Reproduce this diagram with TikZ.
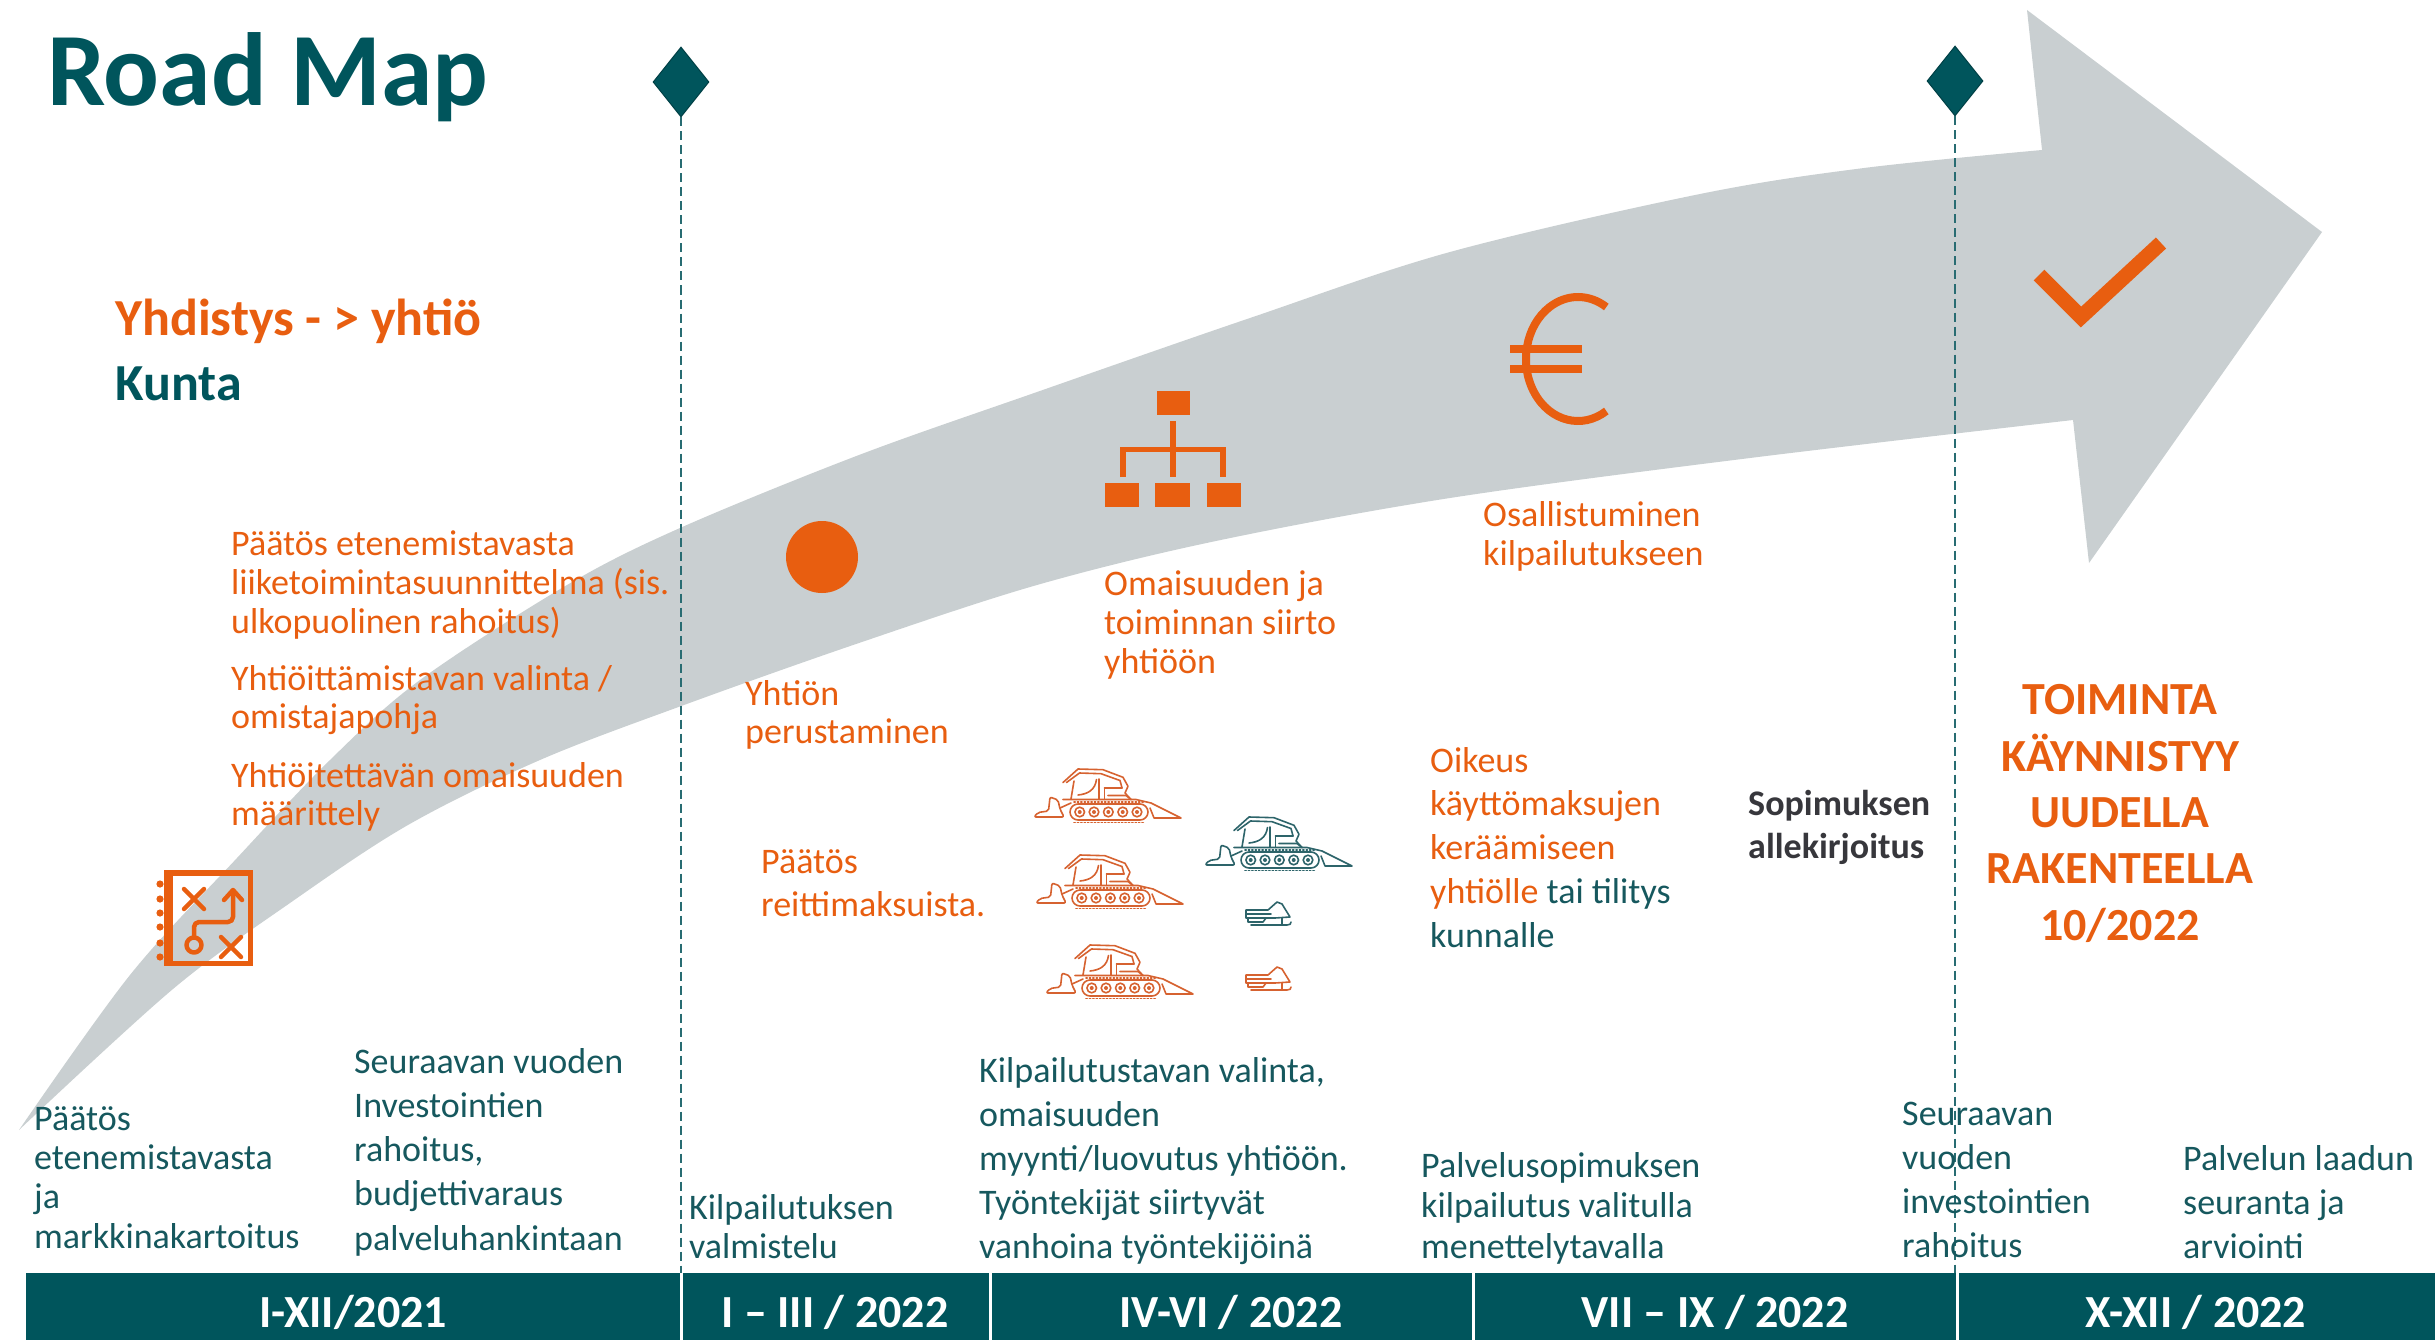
\documentclass[tikz,border=0pt]{standalone}
\usepackage{fontspec}
\setmainfont{Carlito}
\usetikzlibrary{shapes.geometric}

\definecolor{rmteal}{RGB}{0,85,92}
\definecolor{rmtealtext}{RGB}{22,88,94}
\definecolor{rmtealline}{RGB}{40,108,114}
\definecolor{rmorange}{RGB}{232,94,16}
\definecolor{rmgrey}{RGB}{201,207,209}
\definecolor{rmdark}{RGB}{55,55,60}
\definecolor{rmmachine}{RGB}{214,98,48}
\definecolor{rmmachineteal}{RGB}{45,100,106}

\tikzset{
  % line drawing of a snow groomer, origin at top-left, 148 x 55
  pics/groomer/.style={code={
    \begin{scope}[draw=#1, line width=1.6pt, line join=round, line cap=round]
      \draw[rounded corners=2pt] (1,49) -- (5,44.5) -- (15.5,43) -- (17,29) -- (25,32) -- (27,41) -- (31,49) -- cycle;
      \draw (27,40) -- (38,35);
      \draw[rounded corners=8pt] (37,36) rectangle (115,52);
      \foreach \w in {46.7,61,75.3,89.7,104} {
        \draw (\w,44) circle[radius=4.8];
        \fill[#1] (\w,44) circle[radius=2];
      }
      \draw[dash pattern=on 1.2pt off 2.2pt] (41,54.3) -- (112,54.3);
      \draw[dash pattern=on 1.2pt off 2.2pt] (41,33.8) -- (112,33.8);
      \draw (30,31.5) -- (103,31.5) -- (118,35) -- (148,50) -- (121,50) -- (117,40);
      \draw (38,31) -- (41,13);
      \draw (30,14.5) -- (45,1) -- (70,1.7) -- (90,9.3) -- (95,18.3) -- (92,25) -- (98,31.5);
      \draw (33.5,14.5) -- (46.5,5) -- (68,5.7) -- (87,12.5) -- (89,20);
      \draw (45,27) .. controls (55,26) and (62,22) .. (63.5,11.5);
      \draw (66,11) -- (66,31.5);
      \draw (71.5,20) -- (71.5,31.5);
      \draw (71.5,20) -- (89,20);
      \draw (75,27.5) -- (93,27.5) -- (98,31.5);
    \end{scope}
  }},
  % line drawing of a snowmobile, origin at top-left, 47 x 25
  pics/sled/.style={code={
    \begin{scope}[draw=#1, line width=1.6pt, line join=round, line cap=round]
      \draw (1,9) -- (23,9) -- (32,1) -- (37,3) -- (45,16) -- (30,17) -- (1,17) -- cycle;
      \draw (1,13) -- (26,13);
      \draw (3,17) -- (3,21) -- (18,21) -- (21,17);
      \draw (6,24) -- (42,24) .. controls (45,24) and (46,23) .. (46,21);
      \draw (37,17) -- (37,24);
    \end{scope}
  }}
}

\begin{document}
\begin{tikzpicture}[x=1pt, y=-1pt,
  % multi-line text nodes are placed by the baseline of their last line
  body/.style={anchor=base west, inner sep=0pt, align=left, text=rmtealtext, font=\fontsize{36}{#1}\selectfont},
  note/.style={body=#1, text=rmorange},
  heading/.style={anchor=base west, inner sep=0pt, font=\bfseries\fontsize{52}{60}\selectfont},
  barlabel/.style={anchor=base, inner sep=0pt, text=white, font=\bfseries\fontsize{46}{50}\selectfont},
  milestone/.style={diamond, fill=rmteal, draw=rmteal!75!black, line width=1pt, minimum width=56pt, minimum height=70pt, inner sep=0pt},
  milestoneline/.style={draw=rmtealline, line width=2.2pt, dash pattern=on 9pt off 5pt},
  divider/.style={draw=white, line width=3pt},
  iconline/.style={draw=rmorange, line width=4.5pt, line cap=round, line join=round},
]
\useasboundingbox (0,0) rectangle (2435,1340);

% curved progress arrow
\fill[rmgrey]
  plot[smooth, tension=0.55] coordinates {(19,1130) (130,975) (237,858) (330,760) (420,680) (567,585) (680,528) (859,455) (1037,392) (1250,318) (1450,252) (1700,194) (1864,168) (2042,150)}
  -- (2027,10) -- (2322,232) -- (2089,563) -- (2073,420)
  -- plot[smooth, tension=0.55] coordinates {(2073,420) (1750,458) (1450,498) (1216,541) (1037,585) (859,643) (684,705) (540,760) (408,825) (290,903) (173,989) (19,1130)}
  -- cycle;

% timeline bar
\fill[rmteal] (26,1273) rectangle (2435,1340);
\foreach \xd in {681,990,1473,1957} \draw[divider] (\xd,1273) -- (\xd,1340);
\node[barlabel] (q1) at (353,1327) {I-XII/2021};
\node[barlabel] (q2) at (835,1327) {I – III / 2022};
\node[barlabel] (q3) at (1231,1327) {IV-VI / 2022};
\node[barlabel] (q4) at (1715,1327) {VII – IX / 2022};
\node[barlabel] (q5) at (2196,1327) {X-XII / 2022};

% milestones
\node[milestone] (m1) at (681,82) {};
\node[milestone] (m2) at (1955,81) {};
\coordinate (e1) at (681,1273);
\coordinate (e2) at (1955,1273);
\draw[milestoneline] (m1.south) -- (e1);
\draw[milestoneline] (m2.south) -- (e2);

% title and legend
\node[anchor=base west, inner sep=0pt, text=rmteal, font=\bfseries\fontsize{104}{110}\selectfont] (title) at (47,106) {Road Map};
\node[heading, text=rmorange] (legend1) at (115,335) {Yhdistys - > yhtiö};
\node[heading, text=rmteal] (legend2) at (115,400) {Kunta};

% planning icon
\fill[rmorange] (164,870) rectangle (173,966);
\draw[rmorange, line width=5.5pt] (166.75,872.75) rectangle (250.25,963.25);
\foreach \yb in {884,899,913,927,943,957} \fill[rmorange] (160,\yb) circle[radius=3.6];
\draw[iconline] (184,889) -- (204,909) (204,889) -- (184,909);
\draw[iconline] (221,937) -- (241,957) (241,937) -- (221,957);
\draw[iconline] (194,945) circle[radius=7.5];
\draw[iconline, rounded corners=5pt] (194,937.5) -- (194,922) -- (233,922) -- (233,892);
\draw[iconline] (224,900) -- (233,890) -- (242,900);

% company dot
\node[circle, fill=rmorange, minimum size=72pt, inner sep=0pt] (dot) at (822,557) {};

% organisation chart icon
\fill[rmorange] (1157,391) rectangle (1190,415);
\fill[rmorange] (1105,483) rectangle (1139,507);
\fill[rmorange] (1155,483) rectangle (1190,507);
\fill[rmorange] (1207,483) rectangle (1241,507);
\draw[rmorange, line width=5.5pt] (1173,421) -- (1173,477);
\draw[rmorange, line width=5.5pt] (1123,477) -- (1123,449.5) -- (1223,449.5) -- (1223,477);

% euro sign
\draw[rmorange, line width=8pt] (1606.3,411) arc[start angle=57, end angle=303, x radius=52, y radius=62];
\draw[rmorange, line width=8pt] (1510,349) -- (1582,349) (1510,369) -- (1582,369);

% check mark
\draw[rmorange, line width=15pt, line join=miter] (2039,275) -- (2081,317) -- (2161,243);

% snow groomers and snowmobiles
\pic at (1033,768) {groomer=rmmachine};
\pic at (1035,854) {groomer=rmmachine};
\pic at (1045,944) {groomer=rmmachine};
\pic at (1204,816) {groomer=rmmachineteal};
\pic at (1245,901) {sled=rmmachineteal};
\pic at (1245,966) {sled=rmmachine};

% orange milestones text
\node[note=39] (plan1) at (231,633) {Päätös etenemistavasta\\liiketoimintasuunnittelma (sis.\\ulkopuolinen rahoitus)};
\node[note=38] (plan2) at (231,728) {Yhtiöittämistavan valinta /\\omistajapohja};
\node[note=38] (plan3) at (231,825) {Yhtiöitettävän omaisuuden\\määrittely};
\node[note=38] (found) at (745,743) {Yhtiön\\perustaminen};
\node[note=43] (fees) at (761,916) {Päätös\\reittimaksuista.};
\node[note=39] (transfer) at (1104,673) {Omaisuuden ja\\toiminnan siirto\\yhtiöön};
\node[note=39] (tender) at (1483,565) {Osallistuminen\\kilpailutukseen};
\node[note=43.7] (rights) at (1430,947) {Oikeus\\käyttömaksujen\\keräämiseen\\yhtiölle \textcolor{rmtealtext}{tai tilitys}\\\textcolor{rmtealtext}{kunnalle}};
\node[anchor=base west, inner sep=0pt, align=left, text=rmdark, font=\bfseries\fontsize{36}{43}\selectfont] (sign) at (1748,858) {Sopimuksen\\allekirjoitus};
\node[anchor=base, inner sep=0pt, align=center, text=rmorange, font=\bfseries\fontsize{46}{56.3}\selectfont] (start) at (2120,940) {TOIMINTA\\KÄYNNISTYY\\UUDELLA\\RAKENTEELLA\\10/2022};

% teal tasks above the timeline
\node[body=39.3] (taskA) at (34,1248) {Päätös\\etenemistavasta\\ja\\markkinakartoitus};
\node[body=44.2] (taskB) at (354,1250) {Seuraavan vuoden\\Investointien\\rahoitus,\\budjettivaraus\\palveluhankintaan};
\node[body=39] (taskC) at (689,1258) {Kilpailutuksen\\valmistelu};
\node[body=44] (taskD) at (979,1258) {Kilpailutustavan valinta,\\omaisuuden\\myynti/luovutus yhtiöön.\\Työntekijät siirtyvät\\vanhoina työntekijöinä};
\node[body=40.5] (taskE) at (1421,1258) {Palvelusopimuksen\\kilpailutus valitulla\\menettelytavalla};
\node[body=44] (taskF) at (1902,1257) {Seuraavan\\vuoden\\investointien\\rahoitus};
\node[body=44] (taskG) at (2183,1258) {Palvelun laadun\\seuranta ja\\arviointi};
\end{tikzpicture}
\end{document}
